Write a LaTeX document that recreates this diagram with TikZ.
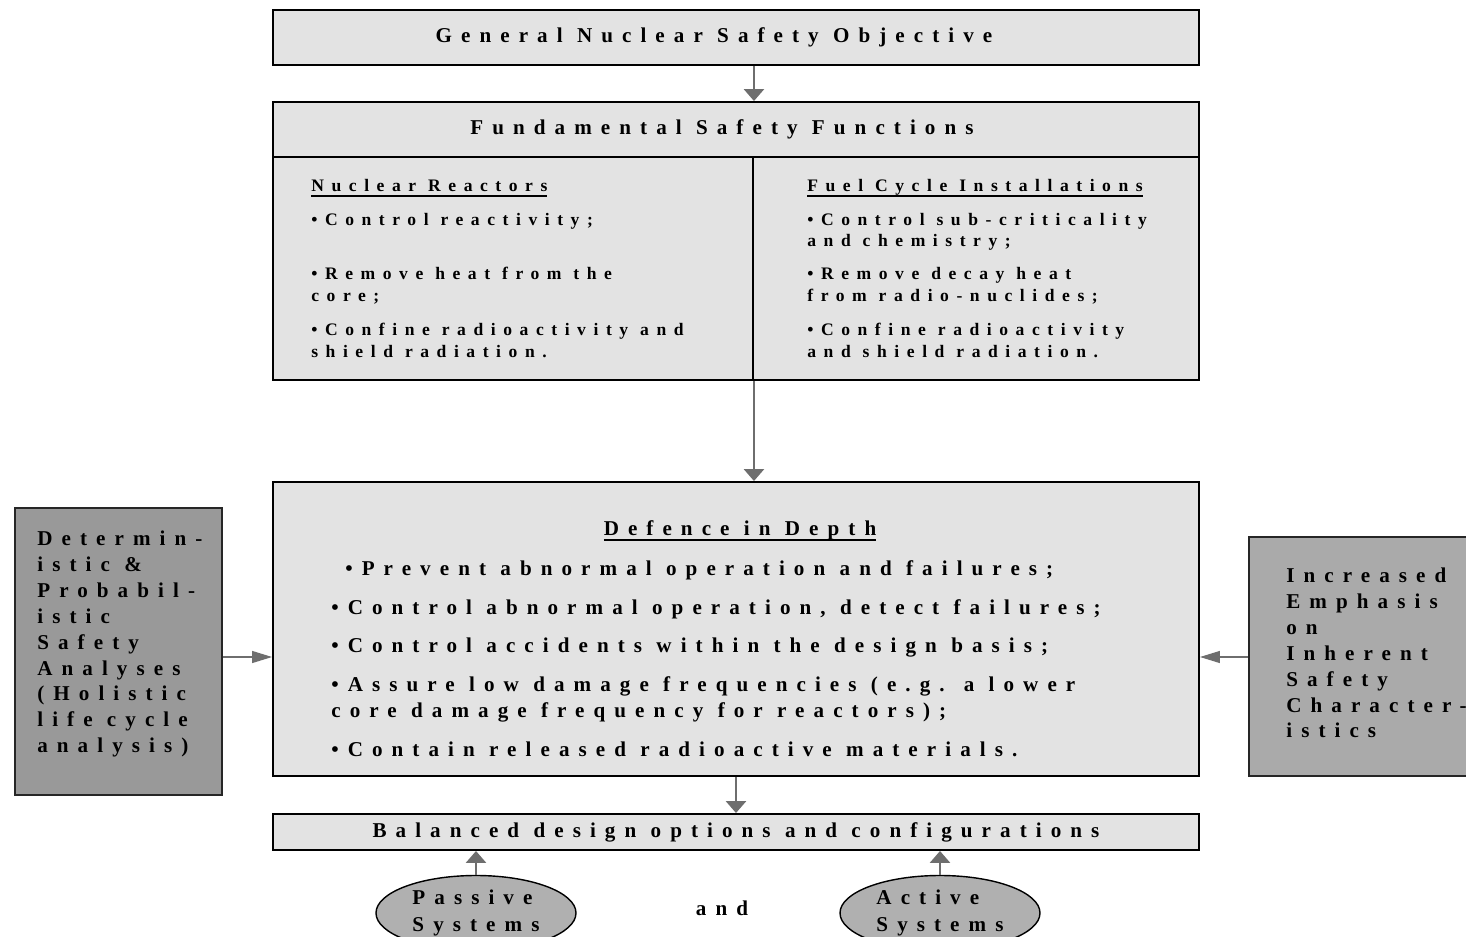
\documentclass[tikz,border=0pt]{standalone}
\usepackage{fontspec}
\usetikzlibrary{arrows.meta,shapes.geometric}
\newfontfamily\diagfont{Liberation Serif}[LetterSpace=43]
\newcommand\thickul[1]{\setbox0\hbox{#1}\leavevmode\rlap{\rule[-3.5pt]{\wd0}{1.2pt}}\box0}
\definecolor{boxgray}{HTML}{E3E3E3}
\definecolor{sidegray}{HTML}{999999}
\definecolor{sidegraylt}{HTML}{AAAAAA}
\definecolor{ellgray}{HTML}{B0B0B0}
\definecolor{arrgray}{HTML}{6E6E6E}

\tikzset{
  bigtext/.style={font=\diagfont\bfseries\fontsize{12}{14.7}\selectfont},
  smalltext/.style={font=\diagfont\bfseries\fontsize{10}{12.5}\selectfont},
  panel/.style={draw=black,line width=1.1pt,fill=boxgray,inner sep=0pt},
  sidebox/.style={draw=black!85,line width=1.1pt,inner sep=0pt},
  vflow/.style={draw=arrgray,line width=1.6pt,-{Triangle[length=0.24cm,width=0.4cm]}},
  hflow/.style={draw=arrgray,line width=0.7pt,-{Triangle[length=0.4cm,width=0.24cm]}},
  sysell/.style={ellipse,draw=black,line width=0.8pt,fill=ellgray,inner sep=0pt,
    minimum width=4cm,minimum height=1.5cm,align=left,
    font=\diagfont\bfseries\fontsize{12}{15.3}\selectfont}
}

\begin{document}
\begin{tikzpicture}
\useasboundingbox[fill=white] (0,0) rectangle (29.32,18.72);

% objective and safety functions
\node[panel,bigtext,minimum width=18.52cm,minimum height=1.1cm] (gso) at (14.72,17.97) {General Nuclear Safety Objective\hspace*{0.88cm}};
\node[panel,bigtext,minimum width=18.52cm,minimum height=1.1cm] (fsfhead) at (14.72,16.13) {Fundamental Safety Functions\hspace*{0.56cm}};
\node[panel,minimum width=9.6cm,minimum height=4.46cm] (fsfleft) at (10.26,13.35) {};
\node[panel,minimum width=8.92cm,minimum height=4.46cm] (fsfright) at (19.52,13.35) {};
\node[smalltext,anchor=north west,align=left,inner sep=0pt] (reactors) at (6.22,15.15)
  {\thickul{Nuclear Reactors}\\[0.24cm]
   •Control reactivity;\\[0.66cm]
   •Remove heat from the\\core;\\[0.24cm]
   •Confine radioactivity and\\shield radiation.};
\node[smalltext,anchor=north west,align=left,inner sep=0pt] (fuelcycle) at (16.14,15.15)
  {\thickul{Fuel Cycle Installations}\\[0.24cm]
   •Control sub-criticality\\and chemistry;\\[0.22cm]
   •Remove decay heat\\from radio-nuclides;\\[0.24cm]
   •Confine radioactivity\\and shield radiation.};

% defence in depth
\node[panel,minimum width=18.52cm,minimum height=5.88cm] (did) at (14.72,6.14) {};
\node[bigtext,anchor=base,inner sep=0pt] (didtitle) at (14.8,8.02) {\thickul{Defence in Depth}};
\node[bigtext,anchor=north west,align=left,inner sep=0pt] (didlist) at (6.62,7.52)
  {\hspace*{0.28cm}•Prevent abnormal operation and failures;\\[0.26cm]
   •Control abnormal operation, detect failures;\\[0.26cm]
   •Control accidents within the design basis;\\[0.26cm]
   •Assure low damage frequencies (e.g. a lower\\core damage frequency for reactors);\\[0.26cm]
   •Contain released radioactive materials.};

\node[sidebox,fill=sidegray,minimum width=4.14cm,minimum height=5.74cm] (analyses) at (2.37,5.69) {};
\node[bigtext,anchor=north west,align=left,inner sep=0pt] (analysestext) at (0.74,8.1)
  {Determin-\\istic \&\\Probabil-\\istic\\Safety\\Analyses\\(Holistic\\life cycle\\analysis)};
\node[sidebox,fill=sidegraylt,minimum width=4.42cm,minimum height=4.78cm] (inherent) at (27.19,5.59) {};
\node[bigtext,anchor=north west,align=left,inner sep=0pt] (inherenttext) at (25.72,7.36)
  {Increased\\Emphasis\\on\\Inherent\\Safety\\Character-\\istics};

% design options
\node[panel,bigtext,minimum width=18.52cm,minimum height=0.72cm] (balanced) at (14.72,2.08) {Balanced design options and configurations};
\node[sysell] (passive) at (9.52,0.46) {Passive\\Systems};
\node[sysell] (active) at (18.8,0.46) {Active\\Systems};
\node[bigtext] (andlbl) at (14.44,0.56) {and};

\draw[vflow] (gso.south -| fsfleft.east) -- (fsfhead.north -| fsfleft.east);
\draw[vflow] (fsfleft.south east) -- (did.north -| fsfleft.east);
\draw[vflow] (did.south) -- (balanced.north);
\draw[vflow] (passive.north) -- (passive.north |- balanced.south);
\draw[vflow] (active.north) -- (active.north |- balanced.south);
\draw[hflow] (analyses.east |- 0,5.58) -- (did.west |- 0,5.58);
\draw[hflow] (inherent.west |- 0,5.58) -- (did.east |- 0,5.58);
\end{tikzpicture}
\end{document}
